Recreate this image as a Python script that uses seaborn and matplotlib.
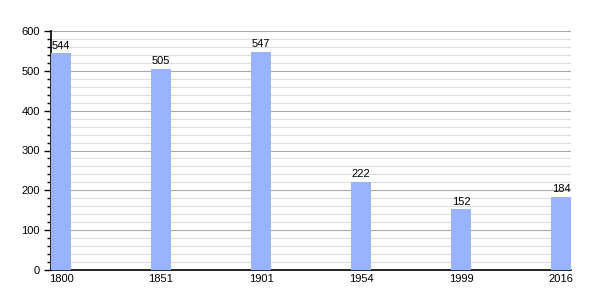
import matplotlib
matplotlib.use("Agg")
import matplotlib.pyplot as plt
import seaborn as sns
import pandas as pd
from matplotlib.ticker import MultipleLocator

years = ["1800", "1851", "1901", "1954", "1999", "2016"]
population = [544, 505, 547, 222, 152, 184]

df = pd.DataFrame({"year": years, "pop": population})

sns.set_style("white")
plt.rcParams["font.family"] = ["Liberation Sans", "DejaVu Sans"]
plt.rcParams["text.color"] = "black"
plt.rcParams["xtick.color"] = "black"
plt.rcParams["ytick.color"] = "black"

fig = plt.figure(figsize=(6, 3), dpi=100)
ax = fig.add_axes([51/600, 30/300, 520/600, 239/300])

sns.barplot(data=df, x="year", y="pop", color="#99b3ff", saturation=1,
            width=0.2, ax=ax, zorder=3, linewidth=0, edgecolor="none")

ax.set_xlim(-0.1, 5.1)
ax.set_ylim(0, 600)
ax.yaxis.set_major_locator(MultipleLocator(100))
ax.yaxis.set_minor_locator(MultipleLocator(20))
ax.grid(axis="y", which="major", color="#a8a8a8", linewidth=0.8, zorder=0)
ax.grid(axis="y", which="minor", color="#dddddd", linewidth=0.8, zorder=0)
ax.set_axisbelow(True)

for s in ["top", "right"]:
    ax.spines[s].set_visible(False)
for s in ["left", "bottom"]:
    ax.spines[s].set_color("black")
    ax.spines[s].set_linewidth(1.2)

ax.tick_params(axis="y", which="major", length=5, width=1, color="black",
               labelcolor="black", labelsize=8, pad=3, left=True)
ax.tick_params(axis="y", which="minor", length=3, width=1, color="black", left=True)
ax.tick_params(axis="x", length=0, labelsize=8, pad=3, labelcolor="black")
ax.set_xlabel("")
ax.set_ylabel("")

for c in ax.containers:
    ax.bar_label(c, labels=[str(v) for v in population], fontsize=8, padding=2,
                 color="black")

fig.savefig("out.png", dpi=100)
